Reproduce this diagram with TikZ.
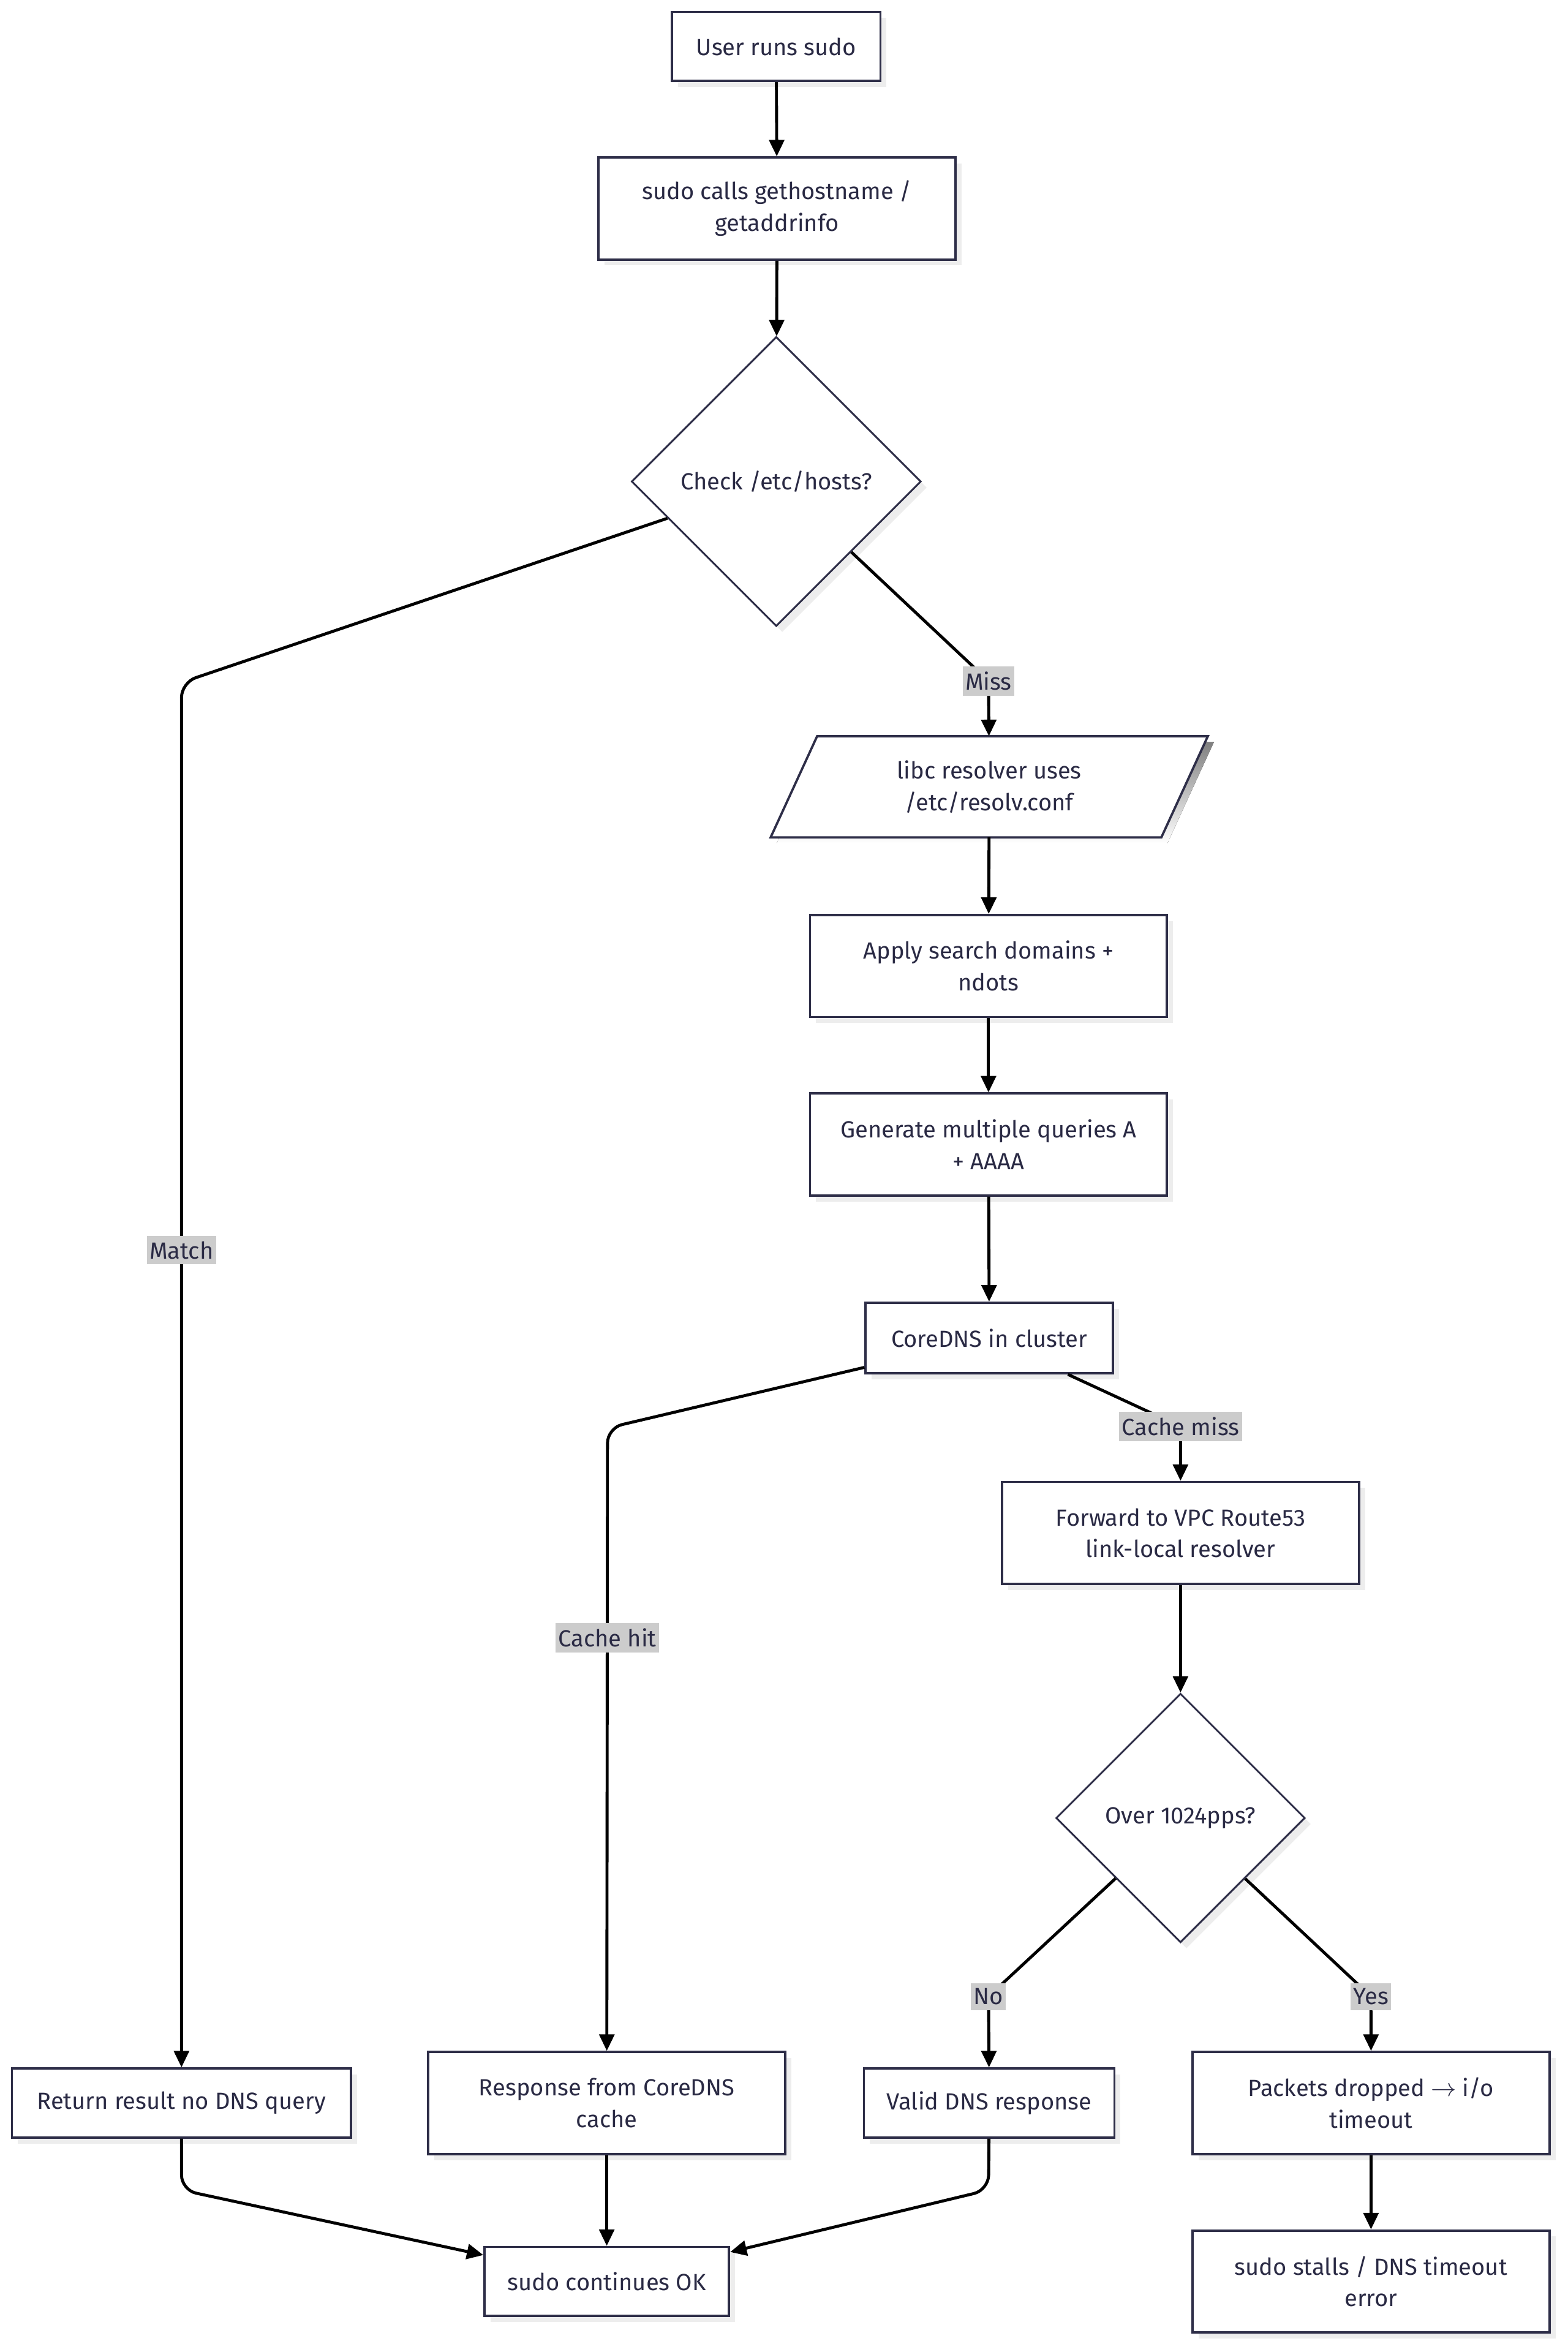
\documentclass[tikz,border=0pt]{standalone}
\usepackage{fontspec}
\setmainfont{Fira Sans}
\usetikzlibrary{arrows.meta,shapes.geometric,shadows,backgrounds}
\definecolor{ink}{HTML}{2A2A44}
\definecolor{frame}{HTML}{2E2E48}
\definecolor{lblgray}{HTML}{CCCCCC}
\definecolor{shade}{HTML}{EDEDED}
\begin{document}
\begin{tikzpicture}[x=0.03cm, y=-0.03cm,
    every node/.style={font=\fontsize{13.3}{18}\selectfont, text=ink},
    box/.style={draw=frame, line width=1.3pt, fill=white, align=center, inner sep=0pt,
      drop shadow={shadow xshift=0.12cm, shadow yshift=-0.12cm, fill=shade, opacity=1}},
    wide/.style={box, minimum width=7.14cm, minimum height=2.04cm},
    decision/.style={diamond, aspect=1, draw=frame, line width=1pt, fill=white, inner sep=0pt,
      drop shadow={shadow xshift=0.12cm, shadow yshift=-0.12cm, fill=shade, opacity=1}},
    flow/.style={draw=black, line width=1.7pt, rounded corners=0.3cm,
      -{Triangle[length=0.33cm, width=0.3cm]}},
    cond/.style={fill=lblgray, sharp corners, inner xsep=1.5pt, inner ysep=3pt}]
\useasboundingbox (0,0) rectangle (1045,1568);

\node[box, minimum width=4.17cm, minimum height=1.38cm] (A) at (517.5,31) {User runs sudo};
\node[wide] (B) at (518,139) {sudo calls gethostname /\\ getaddrinfo};
\node[decision, minimum width=5.79cm, minimum height=5.79cm] (C) at (517.5,321) {Check /etc/hosts?};
\node[minimum width=7.8cm, minimum height=2.01cm, align=center, inner sep=0pt] (D) at (659.5,524.5) {libc resolver uses\\ /etc/resolv.conf};
\begin{scope}[on background layer]
  \fill[shade] ([xshift=0.585cm, yshift=-0.12cm]D.north west) -- ([xshift=0.585cm, yshift=-0.12cm]D.north east)
    -- ([xshift=-0.345cm, yshift=-0.12cm]D.south east) -- ([xshift=-0.345cm, yshift=-0.12cm]D.south west) -- cycle;
  \filldraw[fill=white, draw=frame, line width=1.3pt] ([xshift=0.465cm]D.north west) -- ([xshift=0.465cm]D.north east)
    -- ([xshift=-0.465cm]D.south east) -- ([xshift=-0.465cm]D.south west) -- cycle;
\end{scope}
\node[wide] (E) at (659,644) {Apply search domains +\\ ndots};
\node[wide] (F) at (659,763) {Generate multiple queries A\\ + AAAA};
\node[box, minimum width=4.95cm, minimum height=1.41cm] (G) at (659.5,892) {CoreDNS in cluster};
\node[wide] (H) at (787,1022) {Forward to VPC Route53\\ link-local resolver};
\node[decision, minimum width=4.98cm, minimum height=4.98cm] (I) at (787,1212) {Over 1024pps?};
\node[box, minimum width=5.01cm, minimum height=1.38cm] (J) at (659.5,1402) {Valid DNS response};
\node[wide] (K) at (914,1402) {Packets dropped $\rightarrow$ i/o\\ timeout};
\node[wide] (L) at (914,1521) {sudo stalls / DNS timeout\\ error};
\node[wide] (M) at (404.5,1402) {Response from CoreDNS\\ cache};
\node[box, minimum width=6.78cm, minimum height=1.38cm] (N) at (121,1402) {Return result no DNS query};
\node[box, minimum width=4.89cm, minimum height=1.38cm] (O) at (404.5,1521) {sudo continues OK};

\draw[flow] (A) -- (B);
\draw[flow] (B) -- (C);
\draw[flow] (C) -- (121,455) -- node[cond, pos=0.41] {Match} (N);
\draw[flow] (C) -- (659,454) node[cond] {Miss} -- (D);
\draw[flow] (D) -- (E);
\draw[flow] (E) -- (F);
\draw[flow] (F) -- (G);
\draw[flow] (G) -- (405,952) -- node[cond, pos=0.337] {Cache hit} (M);
\draw[flow] (G) -- (787,951) node[cond] {Cache miss} -- (H);
\draw[flow] (H) -- (I);
\draw[flow] (I) -- (659,1331) node[cond] {No} -- (J);
\draw[flow] (I) -- (914,1331) node[cond] {Yes} -- (K);
\draw[flow] (K) -- (L);
\draw[flow] (M) -- (O);
\draw[flow] (N) -- (121,1460) -- (O);
\draw[flow] (J) -- (659,1460) -- (O);
\end{tikzpicture}
\end{document}
